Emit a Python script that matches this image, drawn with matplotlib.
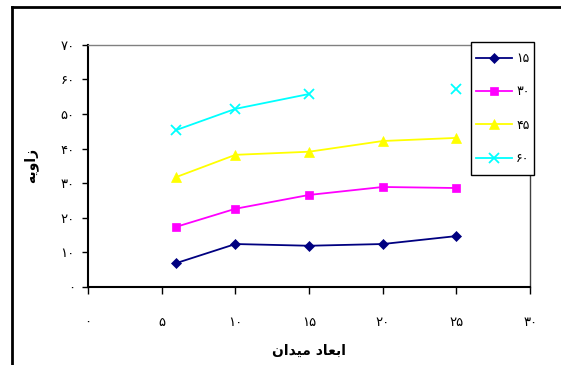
"""
Nemodar-e zavie bar hasb-e ab'ad-e meydan (bazsazi-ye nemodar-e Excel).
"""
import matplotlib
matplotlib.use("Agg")
import matplotlib.pyplot as plt, numpy as np
from matplotlib.lines import Line2D
from matplotlib.patches import Rectangle

# dadeha (az ru-ye tasvir khande shode)
x_vals = [6, 10, 15, 20, 25]
s15 = [6.9, 12.4, 11.9, 12.4, 14.7]
s30 = [17.4, 22.6, 26.6, 28.9, 28.6]
s45 = [31.8, 38.2, 39.1, 42.2, 43.1]
s60 = [45.4, 51.5, 55.8, np.nan, 57.3]
series_names = ["۱۵", "۳۰", "۴۵", "۶۰"]
x_ticks = [0, 5, 10, 15, 20, 25, 30]
y_ticks = [0, 10, 20, 30, 40, 50, 60, 70]
x_title = "ابعاد میدان"
y_title = "زاویه"

FA_DIGITS = "۰۱۲۳۴۵۶۷۸۹"

# shekl-haye horuf: (isolated, final, initial, medial); None = faghat be ghabl vasl mishe
FORMS = {
    "ا": ("\ufe8d", "\ufe8e", None, None),
    "ب": ("\ufe8f", "\ufe90", "\ufe91", "\ufe92"),
    "ع": ("\ufec9", "\ufeca", "\ufecb", "\ufecc"),
    "د": ("\ufea9", "\ufeaa", None, None),
    "م": ("\ufee1", "\ufee2", "\ufee3", "\ufee4"),
    "ی": ("\ufbfc", "\ufbfd", "\ufbfe", "\ufbff"),
    "ن": ("\ufee5", "\ufee6", "\ufee7", "\ufee8"),
    "ز": ("\ufeaf", "\ufeb0", None, None),
    "و": ("\ufeed", "\ufeee", None, None),
    "ه": ("\ufee9", "\ufeea", "\ufeeb", "\ufeec"),
}


def shape_fa(text):
    """
    Matplotlib horuf-e farsi ro be ham nemichasboone, pas inja dasti
    shekl-e har harf ro entekhab mikonim va tartib ro baraye namayesh baraks.
    """
    out = []
    for i, ch in enumerate(text):
        if ch not in FORMS:
            out.append(ch)
            continue
        prev = text[i - 1] if i > 0 else ""
        nxt = text[i + 1] if i + 1 < len(text) else ""
        joins_prev = prev in FORMS and FORMS[prev][2] is not None
        joins_next = nxt in FORMS and FORMS[ch][2] is not None
        iso, fin, ini, med = FORMS[ch]
        if joins_prev and joins_next:
            out.append(med)
        elif joins_prev:
            out.append(fin)
        elif joins_next:
            out.append(ini)
        else:
            out.append(iso)
    return "".join(out)[::-1]


def fa_num(n):
    return "".join(FA_DIGITS[int(d)] for d in str(n))


plt.rcParams["font.family"] = ["DejaVu Sans"]

fig = plt.figure(figsize=(5.61, 3.65), dpi=100)
ax = fig.add_axes([0.157, 0.214, 0.788, 0.663])

styles = [
    ("#000080", "D", 5),
    ("#ff00ff", "s", 5.5),
    ("#ffff00", "^", 6.5),
    ("#00ffff", "x", 7),
]
for vals, name, (c, m, ms) in zip([s15, s30, s45, s60], series_names, styles):
    ax.plot(x_vals, vals, color=c, marker=m, markersize=ms, linewidth=1.3,
            markeredgewidth=1.3 if m == "x" else 0.5, label=name)

ax.set_xlim(0, 30)
ax.set_ylim(0, 70)
ax.set_xticks(x_ticks)
ax.set_xticklabels([fa_num(v) for v in x_ticks], fontsize=9.5)
ax.set_yticks(y_ticks)
ax.set_yticklabels([fa_num(v) for v in y_ticks], fontsize=9.5)
ax.tick_params(axis="x", direction="out", length=5, width=1, pad=16)
ax.tick_params(axis="y", direction="out", length=4.5, width=1, pad=5)

for s in ["left", "bottom"]:
    ax.spines[s].set_linewidth(1.5)
    ax.spines[s].set_color("black")
ax.spines["top"].set_color("#808080")
ax.spines["top"].set_linewidth(1)
ax.spines["right"].set_color("#404040")
ax.spines["right"].set_linewidth(1)

ax.set_xlabel(shape_fa(x_title), fontsize=10, fontweight="bold", labelpad=11)
ax.set_ylabel(shape_fa(y_title), fontsize=10, fontweight="bold", labelpad=16)

# kadr-e legend joda keshide mishe ta fasele-ye bala/paein mesle Excel bashe
W, H = 561, 365
box_l, box_t, box_r, box_b = 471, 42, 534, 175
fig.add_artist(Rectangle((box_l / W, 1 - box_b / H), (box_r - box_l) / W,
                         (box_b - box_t) / H, transform=fig.transFigure,
                         facecolor="white", edgecolor="black", linewidth=1,
                         zorder=4))
leg = fig.legend(loc="center left",
                 bbox_to_anchor=(box_l / W, 1 - (box_t + box_b) / 2 / H),
                 bbox_transform=fig.transFigure, fontsize=9, frameon=False,
                 handlelength=2.9, handletextpad=0.3, labelspacing=1.62,
                 borderpad=0.4, borderaxespad=0)
leg.set_zorder(5)

# kadr-e biruni-ye nemodar (faghat chap va bala dide mishe)
x0, y0 = 11.5 / W, 1 - 6.5 / H
fig.add_artist(Line2D([x0, x0], [0, y0], transform=fig.transFigure,
                      color="black", linewidth=2))
fig.add_artist(Line2D([x0, 1], [y0, y0], transform=fig.transFigure,
                      color="black", linewidth=2))

fig.savefig("out.png", dpi=100)
